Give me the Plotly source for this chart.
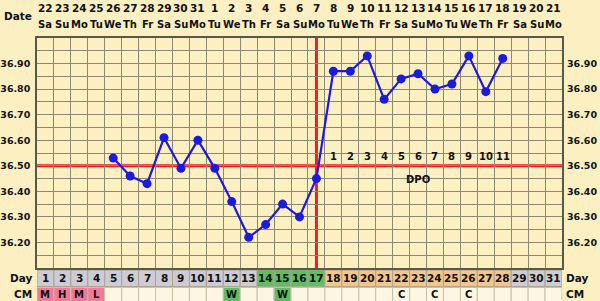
import plotly.graph_objects as go

days = list(range(1, 32))
dates = [22, 23, 24, 25, 26, 27, 28, 29, 30, 31] + list(range(1, 22))
weekdays = (["Sa", "Su", "Mo", "Tu", "We", "Th", "Fr"] * 5)[:31]
temp_days = list(range(5, 29))
temps = [36.53, 36.46, 36.43, 36.61, 36.49, 36.60, 36.49, 36.36, 36.22, 36.27,
         36.35, 36.30, 36.45, 36.87, 36.87, 36.93, 36.76, 36.84, 36.86, 36.80,
         36.82, 36.93, 36.79, 36.92]
coverline = 36.50
ovulation_day = 17
dpo_days = list(range(18, 29))
dpo_labels = [str(i) for i in range(1, 12)]
cm_values = {1: "M", 2: "H", 3: "M", 4: "L", 12: "W", 15: "W", 22: "C", 24: "C", 26: "C"}
ytick_vals = [36.2, 36.3, 36.4, 36.5, 36.6, 36.7, 36.8, 36.9]
ytick_text = ["36.20", "36.30", "36.40", "36.50", "36.60", "36.70", "36.80", "36.90"]

BG = "#fcf0c2"
GRID = "#8c8872"
TXT = "#111111"
FONT = "DejaVu Sans"

fig = go.Figure()
fig.add_trace(go.Scatter(x=temp_days, y=temps, mode="lines+markers",
                         line=dict(color="#1a1ae0", width=2.2),
                         marker=dict(color="#1a1ae0", size=9),
                         hoverinfo="skip", showlegend=False))
fig.add_trace(go.Scatter(x=temp_days, y=temps, yaxis="y2", mode="lines",
                         line=dict(color="rgba(0,0,0,0)"), hoverinfo="skip",
                         showlegend=False))

shapes = []
shapes.append(dict(type="line", xref="x", yref="y", x0=0.5, x1=31.5, y0=coverline, y1=coverline,
                   line=dict(color="#e82020", width=3), layer="below"))
shapes.append(dict(type="line", xref="x", yref="paper", x0=ovulation_day, x1=ovulation_day,
                   y0=0, y1=1, line=dict(color="#e82020", width=3), layer="below"))

def day_color(d):
    if d <= 13 or d >= 29:
        return "#cdccd4"
    if d <= 17:
        return "#5fbd62"
    return "#f6c58c"

def ann(x, y, text, size=10, xref="x", yref="paper", xanchor="center"):
    return dict(x=x, y=y, xref=xref, yref=yref, text=f"<b>{text}</b>", showarrow=False,
                xanchor=xanchor, yanchor="middle", font=dict(size=size, color=TXT))

annotations = []
for d, dt, wd in zip(days, dates, weekdays):
    shapes.append(dict(type="rect", xref="x", yref="paper", x0=d - 0.5, x1=d + 0.5,
                       y0=-0.0087, y1=-0.0804, fillcolor=day_color(d),
                       line=dict(color="#a8a490", width=1), layer="below"))
    cm = cm_values.get(d, "")
    if cm in ("M", "H", "L"):
        cfill = "#f27a98"
    elif cm == "W":
        cfill = "#5fbd62"
    else:
        cfill = "#fcf6e2"
    shapes.append(dict(type="rect", xref="x", yref="paper", x0=d - 0.5, x1=d + 0.5,
                       y0=-0.0848, y1=-0.17, fillcolor=cfill,
                       line=dict(color="#c8c2a8", width=1), layer="below"))
    annotations.append(ann(d, -0.0445, d, 10.5))
    if cm:
        annotations.append(ann(d, -0.115, cm, 10))
    annotations.append(ann(d, 1.13, dt, 10.5))
    annotations.append(ann(d, 1.057, wd, 10))

for d, lab in zip(dpo_days, dpo_labels):
    annotations.append(ann(d, 36.536, lab, 10, yref="y"))
annotations.append(ann(23, 36.448, "DPO", 10, yref="y"))

side_labels = [(-0.005, 1.095, "Date", "right"), (-0.005, -0.0445, "Day", "right"),
               (-0.005, -0.115, "CM", "right"), (1.004, -0.0445, "Day", "left"),
               (1.004, -0.115, "CM", "left")]
for x, y, t, anc in side_labels:
    annotations.append(ann(x, y, t, 10.5, xref="paper", xanchor=anc))

fig.update_layout(
    width=600, height=301,
    margin=dict(l=37, r=38, t=38, b=33, autoexpand=False),
    paper_bgcolor=BG, plot_bgcolor=BG,
    font=dict(family=FONT, size=10, color=TXT),
    showlegend=False,
    shapes=shapes,
    annotations=annotations,
    xaxis=dict(range=[0.5, 31.5], tickvals=[i + 0.5 for i in range(0, 32)],
               showticklabels=False, showgrid=True, gridcolor=GRID, gridwidth=1.2,
               zeroline=False, showline=True, linecolor="#5a5848", linewidth=1.5,
               mirror=True, ticks="", automargin=False),
    yaxis=dict(range=[36.10, 37.00], tickvals=ytick_vals,
               ticktext=[f"<b>{t}</b>" for t in ytick_text],
               showgrid=True, gridcolor=GRID, gridwidth=1.2, zeroline=False,
               minor=dict(dtick=0.05, tick0=36.0, showgrid=True, gridcolor=GRID, gridwidth=1.2),
               showline=True, linecolor="#5a5848", linewidth=1.5, mirror=True,
               ticks="", ticklabelstandoff=3, tickfont=dict(size=9.5), automargin=False),
    yaxis2=dict(range=[36.10, 37.00], tickvals=ytick_vals,
                ticktext=[f"<b>{t}</b>" for t in ytick_text],
                overlaying="y", side="right", showgrid=False, zeroline=False,
                ticks="", ticklabelstandoff=4, tickfont=dict(size=9.5), automargin=False),
)

fig.write_html("out.html")
